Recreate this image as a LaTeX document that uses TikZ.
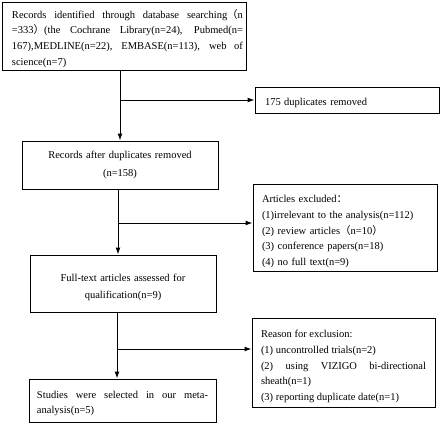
\documentclass[tikz,border=0pt]{standalone}
\usepackage{fontspec}
\setmainfont{Liberation Serif}
\newfontfamily\cjk{Noto Sans CJK SC}
\usetikzlibrary{arrows.meta}
\newcommand{\dn}[1]{\rule{0pt}{#1}}
\begin{document}
\begin{tikzpicture}[x=1pt,y=-1pt,
  box/.style={draw, line width=1pt, inner ysep=0pt, font=\fontsize{10.5}{15.6}\selectfont},
  arr/.style={line width=1pt, -{Latex[length=7pt,width=5pt]}}]
\useasboundingbox (0,0) rectangle (440,423);
\node[box, inner xsep=3pt, minimum width=244pt, minimum height=68pt] (b1) at (124,36)
  {\hskip7pt\parbox[c]{231pt}{\dn{13.5pt}Records identified through database searching{\cjk （}n\linebreak
   =333{\cjk ）}(the Cochrane Library(n=24), Pubmed(n=\linebreak
   167),MEDLINE(n=22), EMBASE(n=113), web of\linebreak
   science(n=7)}};
\node[box, text width=164pt, inner xsep=10pt, minimum height=26pt, align=left] (dup) at (347,100)
  {\dn{13.5pt}175 duplicates removed};
\node[box, text width=176pt, inner xsep=10pt, minimum height=48pt, align=center] (b2) at (120,165)
  {Records after duplicates removed\\[3pt](n=158)};
\node[box, text width=166pt, inner xsep=9pt, minimum height=87pt, align=left] (ex) at (345,227.5)
  {\dn{15.5pt}Articles excluded{\cjk ：}\\
   (1)irrelevant to the analysis(n=112)\\
   (2) review articles{\cjk （}n=10{\cjk ）}\\
   (3) conference papers(n=18)\\
   (4) no full text(n=9)};
\node[box, text width=166pt, inner xsep=10pt, minimum height=57pt, align=center] (b3) at (123,283.5)
  {\dn{15.5pt}Full-text articles assessed for\\[1.5pt]qualification(n=9)};
\node[box, text width=165pt, inner xsep=9pt, minimum height=89pt, align=justify] (re) at (343.5,362.5)
  {\dn{15.5pt}Reason for exclusion:\par
   (1) uncontrolled trials(n=2)\par
   (2) using VIZIGO bi-directional\linebreak sheath(n=1)\par
   (3) reporting duplicate date(n=1)};
\node[box, text width=171pt, inner xsep=8pt, minimum height=43pt, align=justify] (b4) at (122.5,400.5)
  {\dn{13.5pt}Studies were selected in our meta-\linebreak analysis(n=5)};
\coordinate (j1) at (120,100);
\coordinate (j2) at (118,223);
\coordinate (j3) at (117,349);
\draw[arr] (j1 |- b1.south) -- (j1 |- b2.north);
\draw[arr] (j1) -- (dup.west);
\draw[arr] (j2 |- b2.south) -- (j2 |- b3.north);
\draw[arr] (j2) -- (j2 -| ex.west);
\draw[arr] (j3 |- b3.south) -- (j3 |- b4.north);
\draw[arr] (j3) -- (j3 -| re.west);
\end{tikzpicture}
\end{document}
